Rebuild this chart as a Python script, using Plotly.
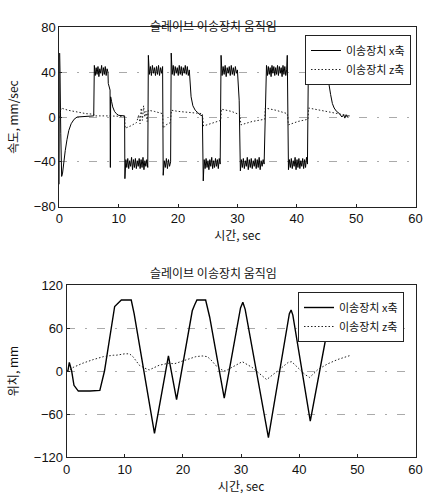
import numpy as np
import plotly.graph_objects as go

# ---------------- data: velocity (top chart) ----------------
vx_t_start = [0, 0.05, 0.12, 0.25, 0.4, 0.55, 0.75, 1.0, 1.3, 1.6, 2.0, 2.5, 3.0, 4.0, 5.0, 5.8]
vx_start = [-60, 57, 40, -15, -53, -50, -40, -30, -20, -12, -6, -2, 0, 0.5, 1, 1]

p1 = [46, 37, 44, 38, 45, 36, 43, 39, 46, 37, 44, 38, 45, 37, 43, 40]
d1_t = [8.25, 8.4, 8.55, 8.6, 8.65, 8.8, 9.0, 9.3, 9.6, 10.0, 10.5, 11.0]
d1 = [30, 27, 24, -45, 18, 14, 9, 5, 3, 1.5, 1, 1]
n1 = [-55, -38, -45, -37, -46, -39, -44, -36, -47, -38, -45, -37, -46, -39, -44, -37,
      -46, -38, -45, -36, -47, -39, -44, -38, -45]
p2 = [55, 38, 45, 37, 46, 39, 44, 37, 45, 38, 46, 37, 44, 39, 45]
n2 = [-52, -39, -45, -37, -46, -38, -44, -40]
p3 = [57, 38, 46, 37, 45, 39, 44, 37, 46, 38, 45, 37, 44, 39, 46, 38, 45, 37, 42]
d3_t = [22.0, 22.2, 22.5, 22.9, 23.3, 23.7, 24.1]
d3 = [30, 18, 10, 6, 4, 2, 1]
n3 = [-57, -38, -46, -37, -45, -39, -47, -38, -44, -36, -46, -39, -45, -37, -44, -38, -46, -37, -42]
p4 = [55, 37, 45, 38, 46, 36, 44, 39, 45, 37, 46, 38, 44, 37, 45, 39, 42]
d4_t = [30.1, 30.3]
d4 = [30, 15]
n4 = [-48, -38, -45, -37, -46, -39, -44, -36, -47, -38, -45, -37, -46, -39, -44, -37,
      -46, -38, -45, -36, -47, -39, -44, -38, -42]
r5_t = [34.6, 34.75]
r5 = [-20, 20]
p5 = [46, 37, 45, 38, 44, 36, 46, 39, 45, 37, 44, 38, 46, 37, 45, 39, 44, 36, 46, 38, 45, 37, 42]
d5_t = [38.4, 38.5]
d5 = [55, -45]
n5 = [-47, -38, -45, -37, -46, -39, -44, -36, -47, -38, -45, -37, -46, -39, -44, -37,
      -46, -38, -45, -36, -42]
p6 = [43, 37, 44, 38, 43, 36, 44, 39, 43, 37, 44, 38, 43, 37, 44, 39, 43, 36, 44, 38, 42]
d6_t = [45.4, 45.7, 46.0, 46.3, 46.7, 47.2, 47.6, 47.9, 48.1, 48.3, 48.5, 48.7, 48.9]
d6 = [30, 20, 12, 8, 5, 3, 0, 2, -1, 2, 0, 1, 1]

# plateau spans (start, end) in seconds
plateau_spans = [(5.9, 8.2), (11.05, 14.9), (15.0, 17.4), (17.5, 18.75), (18.85, 21.9),
                 (24.25, 27.1), (27.25, 30.0), (30.5, 34.5), (34.9, 38.3), (38.6, 41.8),
                 (41.95, 45.2)]

# z-axis velocity
vz_t = [0, 0.3, 0.6, 1.5, 3, 4.5, 5.8, 5.9, 8, 10, 11.0, 11.1, 12, 13, 13.4, 13.6, 13.8,
        14.0, 14.2, 14.4, 14.6, 14.8, 15.0, 16, 17.4, 17.5, 18.0, 18.7, 18.9, 20, 22, 24.1,
        24.3, 26, 27.2, 27.3, 29, 30.4, 30.6, 32.5, 34.6, 34.7, 36.5, 38.4, 38.6, 40.2,
        41.9, 42.0, 44, 46, 48.9]
vz = [0, 8, 7.5, 6, 4.5, 3, 2.5, 1, 1, 0.5, 0.5, -10, -8, -5, 2, -6, 8, -3, 10, 0, 5, -4,
      6, 5, 3, -10, -7, -5, 6, 5, 4, 3, -8, -5, -3, 7, 5, 2, -7, -4, -2, 8, 6, 3, -7, -4,
      -2, 8, 6, 4, 1]

# ---------------- data: position (bottom chart) ----------------
px_t = [0, 0.2, 0.45, 0.85, 1.25, 2.0, 4.0, 5.7, 6.5, 8.0, 8.25, 9.0, 9.4, 11.1, 11.6,
        15.1, 17.5, 18.9, 21.6, 22.0, 22.4, 23.9, 24.6, 27.1, 29.9, 30.3, 30.7, 34.7,
        38.3, 38.6, 38.9, 41.9, 44.9]
px = [0, 0, 12, 0, -20, -28, -28, -27, 0, 83, 90, 96, 99, 99, 80, -87, 21, -40, 84, 92,
      99, 99, 75, -38, 88, 96, 86, -93, 80, 85, 78, -70, 60]

pz_t = [0, 0.5, 1.1, 2.8, 4.6, 5.7, 6.3, 8.0, 8.5, 10.0, 10.8, 11.4, 12.5, 13.7, 14.2,
        15.9, 17.6, 18.5, 20.5, 21.0, 22.2, 23.3, 24.2, 25.0, 25.6, 26.7, 27.3, 28.4,
        29.6, 30.2, 31.9, 33.3, 34.4, 35.8, 37.0, 38.1, 38.7, 39.8, 41.0, 41.8, 43.2,
        44.9, 46.6, 48.9]
pz = [0, 1.5, 5, 11, 16, 18, 20, 22, 22, 24, 24, 20, 8, 3, 1.5, 8, 11, 10, 15, 17, 20,
      21, 20, 14, 8, 1.5, 0, 5, 11, 13, 5, -5, -12, -3, 5, 12, 13, 5, -5, -9, 2, 10, 16, 22]

# ---------------- assemble x-velocity series ----------------
plateaus = [p1, n1, p2, n2, p3, n3, p4, n4, p5, n5, p6]
between = [(d1_t, d1), ([], []), ([], []), ([], []), (d3_t, d3), ([], []), (d4_t, d4),
           (r5_t, r5), (d5_t, d5), ([], []), (d6_t, d6)]
t_vx = list(vx_t_start)
v_x = list(vx_start)
for (a, b), vals, (bt, bv) in zip(plateau_spans, plateaus, between):
    t_vx += list(np.linspace(a, b, len(vals)))
    v_x += vals
    t_vx += bt
    v_x += bv

# ---------------- figure ----------------
W, H = 424, 495
fig = go.Figure()

LBL_X = "이송장치 x축"
LBL_Z = "이송장치 z축"
KFONT = "Noto Sans CJK KR"
NFONT = "Liberation Sans"
DOTS = "1.5px,2px"

fig.add_trace(go.Scatter(x=t_vx, y=v_x, mode="lines", name=LBL_X,
                         line=dict(color="black", width=1), xaxis="x", yaxis="y",
                         legend="legend"))
fig.add_trace(go.Scatter(x=vz_t, y=vz, mode="lines", name=LBL_Z,
                         line=dict(color="#222", width=1, dash=DOTS), xaxis="x",
                         yaxis="y", legend="legend"))
fig.add_trace(go.Scatter(x=px_t, y=px, mode="lines", name=LBL_X,
                         line=dict(color="black", width=1.4), xaxis="x2", yaxis="y2",
                         legend="legend2"))
fig.add_trace(go.Scatter(x=pz_t, y=pz, mode="lines", name=LBL_Z,
                         line=dict(color="#222", width=1, dash=DOTS), xaxis="x2",
                         yaxis="y2", legend="legend2"))

axis_common = dict(showline=True, linecolor="#222", linewidth=1, mirror=True,
                   ticks="inside", ticklen=3, tickcolor="#222", zeroline=False,
                   automargin=False, ticklabeloverflow="allow",
                   tickfont=dict(family=NFONT, size=13, color="#111"))
xcommon = dict(range=[0, 60], tickvals=[0, 10, 20, 30, 40, 50, 60], showgrid=False,
               **axis_common)
ttl_font = dict(family=KFONT, size=12, color="#111")
grid_kw = dict(showgrid=True, gridcolor="#aaa", griddash="8px,10px,2px,10px", gridwidth=1)

fig.update_layout(
    template="none",
    width=W, height=H, margin=dict(l=0, r=0, t=0, b=0, autoexpand=False),
    paper_bgcolor="white", plot_bgcolor="white", showlegend=True,
    xaxis=dict(domain=[59.3 / W, 415.5 / W], anchor="y",
               title=dict(text="시간, sec", font=ttl_font, standoff=4), **xcommon),
    yaxis=dict(domain=[1 - 206.7 / H, 1 - 27.3 / H], anchor="x", range=[-80, 80],
               tickvals=[-80, -40, 0, 40, 80],
               title=dict(text="속도, mm/sec", font=ttl_font, standoff=12),
               **grid_kw, **axis_common),
    xaxis2=dict(domain=[66.7 / W, 415.5 / W], anchor="y2",
                title=dict(text="시간, sec", font=ttl_font, standoff=6), **xcommon),
    yaxis2=dict(domain=[1 - 457 / H, 1 - 285 / H], anchor="x2", range=[-120, 120],
                tickvals=[-120, -60, 0, 60, 120],
                title=dict(text="위치, mm", font=ttl_font, standoff=12),
                **grid_kw, **axis_common),
    legend=dict(x=305 / W, y=1 - 35 / H, xanchor="left", yanchor="top",
                bgcolor="white", bordercolor="#222", borderwidth=1,
                font=dict(family=KFONT, size=11, color="#111"), tracegroupgap=0,
                itemwidth=30),
    legend2=dict(x=298 / W, y=1 - 292 / H, xanchor="left", yanchor="top",
                 bgcolor="white", bordercolor="#222", borderwidth=1,
                 font=dict(family=KFONT, size=11, color="#111"), tracegroupgap=0,
                 itemwidth=30),
    annotations=[
        dict(text="슬레이브 이송장치 움직임", x=213 / W, y=1 - 15 / H, xref="paper",
             yref="paper", showarrow=False, font=ttl_font),
        dict(text="슬레이브 이송장치 움직임", x=213 / W, y=1 - 272 / H, xref="paper",
             yref="paper", showarrow=False, font=ttl_font),
    ],
)

fig.write_html("out.html", config={"displayModeBar": False},
               post_script="document.body.style.margin='0';")
